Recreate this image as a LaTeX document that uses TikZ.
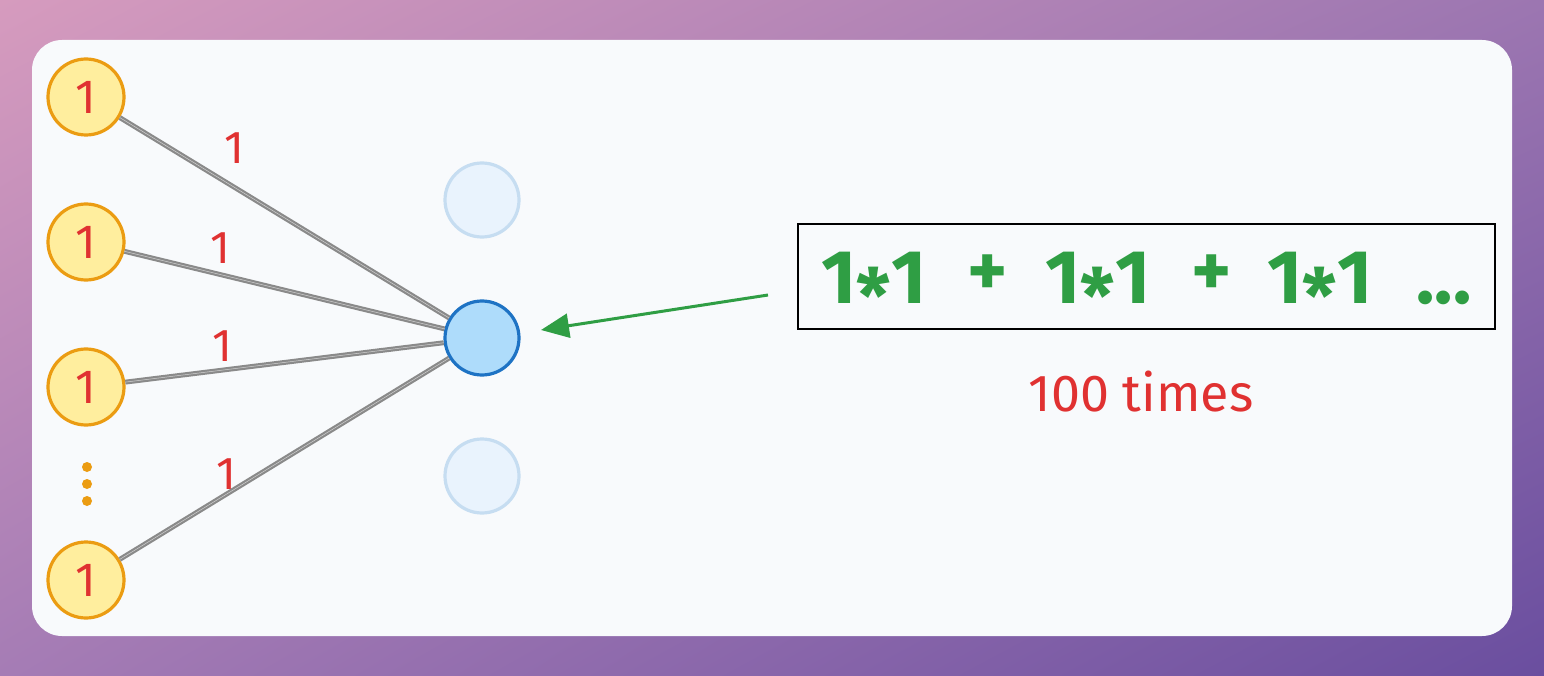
\documentclass[tikz,border=0pt]{standalone}
\usepackage{fontspec}
\setmainfont{Fira Sans}
\usetikzlibrary{arrows.meta,shadings}
\definecolor{bgtl}{HTML}{D69BBE}
\definecolor{bgtr}{HTML}{9C76B1}
\definecolor{bgbl}{HTML}{A57CB5}
\definecolor{bgbr}{HTML}{6A4E9F}
\definecolor{card}{HTML}{F8FAFC}
\definecolor{yfill}{HTML}{FFEE9E}
\definecolor{ystroke}{HTML}{EB9C12}
\definecolor{bfill}{HTML}{AEDCFB}
\definecolor{bstroke}{HTML}{1E73C4}
\definecolor{ffill}{HTML}{E9F3FD}
\definecolor{fstroke}{HTML}{C6DDF1}
\definecolor{redtxt}{HTML}{E03131}
\definecolor{greentxt}{HTML}{2F9E44}
\definecolor{edgegray}{HTML}{8A8A8A}
\newcommand{\midast}{\raisebox{-0.27em}{*}}
\tikzset{
  innode/.style={circle, draw=ystroke, fill=yfill, line width=3.2pt, minimum size=76pt, inner sep=0pt,
    text=redtxt, font=\fontsize{48}{48}\selectfont},
  hidnode/.style={circle, draw=bstroke, fill=bfill, line width=3.2pt, minimum size=74pt, inner sep=0pt},
  fadenode/.style={circle, draw=fstroke, fill=ffill, line width=3.2pt, minimum size=74pt, inner sep=0pt},
  wlabel/.style={text=redtxt, font=\fontsize{46}{46}\selectfont, inner sep=0pt},
  edge/.style={draw=edgegray, line width=2.2pt, double=gray!35, double distance=0.5pt},
  eqtxt/.style={text=greentxt, font=\fontsize{76}{76}\selectfont\bfseries, inner sep=0pt},
  dotnode/.style={circle, fill=ystroke, minimum size=10pt, inner sep=0pt}
}
\begin{document}
\begin{tikzpicture}[x=1pt, y=-1pt]
\useasboundingbox (0,0) rectangle (1544,676);
\shade[upper left=bgtl, upper right=bgtr, lower left=bgbl, lower right=bgbr] (0,0) rectangle (1544,676);
\fill[card, rounded corners=30pt] (32,40) rectangle (1512,636);

\node[fadenode] (f1) at (482,200) {};
\node[fadenode] (f2) at (482,476) {};
\node[hidnode] (h) at (482,338) {};

\node[innode] (i1) at (86,97) {1};
\node[innode] (i2) at (86,242) {1};
\node[innode] (i3) at (86,387) {1};
\node[innode] (i4) at (86,580) {1};
\node[dotnode] (d1) at (87,467) {};
\node[dotnode] (d2) at (87,484) {};
\node[dotnode] (d3) at (87,501) {};

\draw[edge] (i1) -- (h);
\draw[edge] (i2) -- (h);
\draw[edge] (i3) -- (h);
\draw[edge] (i4) -- (h);

\node[wlabel] (w1) at (234,148) {1};
\node[wlabel] (w2) at (220,248) {1};
\node[wlabel] (w3) at (222,346) {1};
\node[wlabel] (w4) at (226,474) {1};

\node[draw=black, line width=2.6pt, minimum width=697pt, minimum height=105pt, inner sep=0pt] (box) at (1146.5,276.5) {};
\node[eqtxt, anchor=base] (e1) at (874,303) {1\midast1};
\node[eqtxt, anchor=base] (p1) at (988,296) {+};
\node[eqtxt, anchor=base] (e2) at (1098,303) {1\midast1};
\node[eqtxt, anchor=base] (p2) at (1212,296) {+};
\node[eqtxt, anchor=base] (e3) at (1320,303) {1\midast1};
\node[eqtxt, anchor=base] (e4) at (1444,303) {...};

\coordinate (astart) at (768,295);
\coordinate (aend) at (541,330);
\draw[greentxt, line width=3pt, -{Triangle[length=28pt,width=24pt]}] (astart) -- (aend);
\node[text=redtxt, font=\fontsize{52}{52}\selectfont, inner sep=0pt] (times) at (1141,392) {100 times};
\end{tikzpicture}
\end{document}
